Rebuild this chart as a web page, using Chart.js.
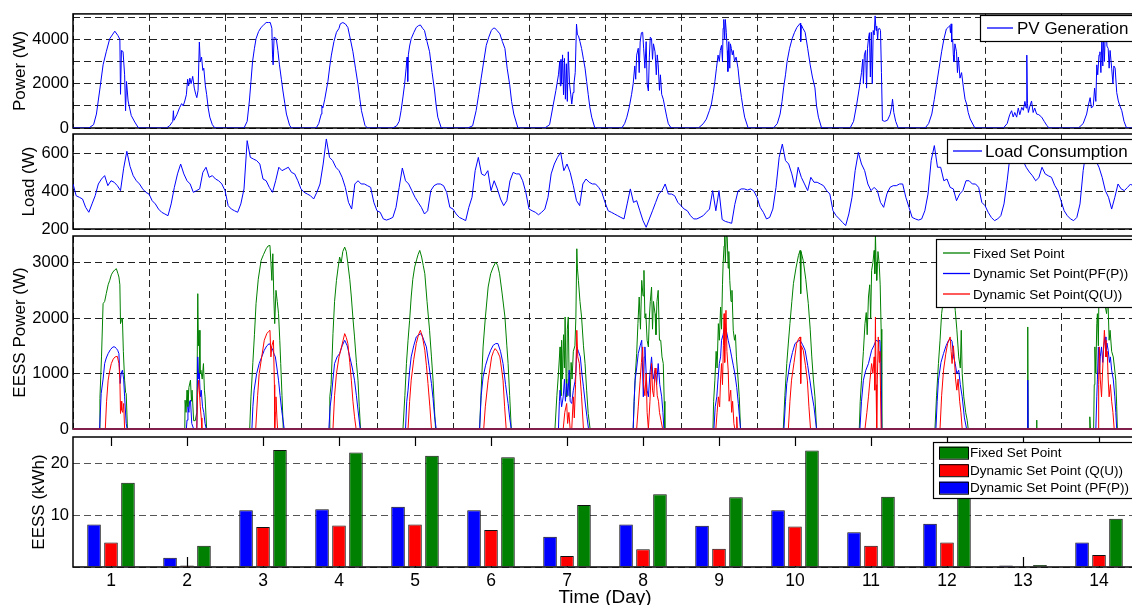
<!DOCTYPE html>
<html>
<head>
<meta charset="utf-8">
<script src="https://cdn.jsdelivr.net/npm/chart.js@4.4.0/dist/chart.umd.min.js"></script>
<style>
  html, body { margin: 0; padding: 0; background: #fff; overflow: hidden; }
  #wrap { position: relative; width: 1140px; height: 605px; }
  #wrap canvas { position: absolute; left: 0; top: 0; }
</style>
</head>
<body>
<div id="wrap">
  <canvas id="pvChart" width="1140" height="605"></canvas>
  <canvas id="loadChart" width="1140" height="605"></canvas>
  <canvas id="essPowerChart" width="1140" height="605"></canvas>
  <canvas id="essEnergyChart" width="1140" height="605"></canvas>
</div>
<script>
// ---- data (hour of day, watts) per day ----
const pvGeneration = [
  [[0,0],[5,0],[6.5,150],[7.4,630],[8.4,1670],[9.5,2850],[10.5,3440],[11.6,4030],[12.4,4200],[13.2,4370],[14.2,4170],[14.8,4000],[15,1520],[15.3,3500],[15.8,3450],[16.3,2400],[16.6,780],[16.9,2100],[17.4,1220],[18.4,560],[19.5,270],[20.5,40],[21,0]],
  [[5.5,0],[6.5,100],[7.5,300],[7.7,780],[7.9,350],[8.8,600],[9.7,930],[10.3,1100],[10.8,1000],[11.3,1220],[11.8,1500],[12.2,2200],[12.5,1900],[12.9,2250],[13.3,2000],[13.8,2330],[14.3,1800],[14.8,1500],[15.1,1370],[15.5,1700],[15.9,3880],[16.2,3000],[16.6,3200],[17,2600],[17.3,2700],[17.8,1900],[18.2,1520],[18.7,900],[19.2,490],[20,150],[20.8,0]],
  [[6,0],[7,300],[7.7,1220],[8.2,2100],[8.7,3000],[9.3,3600],[9.8,4030],[10.6,4350],[11.4,4540],[12.2,4650],[13,4760],[13.7,4760],[14.3,4760],[14.8,4500],[15,3300],[15.2,2850],[15.5,4100],[16.2,4030],[16.7,3500],[17.2,2850],[17.8,2200],[18.3,1670],[18.9,1100],[19.4,630],[20.4,120],[21,0]],
  [[4.8,0],[5.6,200],[6.4,630],[6.6,1000],[6.9,900],[7.5,1300],[8.5,2100],[9.1,2800],[9.6,3290],[10.4,3900],[11.2,4320],[12,4500],[12.4,4700],[13.2,4760],[14,4700],[14.8,4540],[15.6,4000],[16.4,3440],[17.2,2700],[18,1960],[18.6,1300],[19.1,780],[20.2,120],[21,0]],
  [[5,0],[6.2,100],[7,300],[7.6,780],[8.2,1400],[8.7,1960],[9.2,2700],[9.5,3200],[9.7,2100],[9.9,3300],[10.3,3700],[10.8,4030],[11.6,4300],[12.4,4540],[13.1,4620],[13.7,4650],[14.4,4500],[15,4400],[15.8,3900],[16.6,3440],[17.4,2500],[18.2,1670],[18.7,1000],[19.2,490],[20.3,0]],
  [[4.7,0],[6.2,100],[7.3,780],[8.1,1500],[8.9,2250],[9.7,3000],[10.5,3730],[11.3,4100],[12.1,4400],[12.7,4500],[13.2,4510],[13.9,4400],[14.8,4250],[15.6,3900],[16.4,3590],[17.1,2700],[17.9,1960],[18.5,1200],[19.2,630],[20.5,0]],
  [[5,0],[6.5,150],[7.7,1080],[8.5,1700],[9.3,2400],[9.7,3000],[9.9,1900],[10.1,3100],[10.3,2000],[10.6,3300],[10.9,1500],[11.2,3140],[11.5,1300],[11.8,2900],[12.1,1200],[12.4,3440],[12.8,2000],[13.2,1500],[13.5,1080],[13.9,1600],[14.2,2000],[14.6,2500],[15,4690],[15.3,4200],[15.6,4170],[16.1,3900],[16.6,3590],[17.2,3100],[17.7,2700],[18.2,2100],[18.7,1520],[19.2,950],[19.8,490],[20.8,0]],
  [[5.3,0],[6.2,200],[6.9,490],[7.6,900],[8.4,1520],[8.9,2000],[9.4,2800],[9.7,2200],[10,3290],[10.5,3600],[10.8,2500],[11.1,3880],[11.5,4300],[11.9,4320],[12.2,3600],[12.6,2700],[13,3900],[13.3,2000],[13.7,1670],[14,3200],[14.3,4100],[14.7,4030],[15,3100],[15.3,3800],[15.8,3440],[16.2,2400],[16.5,3300],[16.8,2850],[17.2,1700],[17.5,2400],[17.9,1520],[18.4,1300],[18.9,930],[19.5,500],[20,190],[20.9,0]],
  [[5.5,0],[7,190],[8,400],[9,800],[9.6,1080],[10.2,1600],[10.7,2100],[11.2,2700],[11.7,3290],[12.1,3000],[12.4,3500],[12.8,3730],[13.1,3000],[13.3,4500],[13.5,4900],[13.8,4000],[14,4900],[14.3,4320],[14.6,3500],[14.8,2550],[15.1,3900],[15.4,2700],[15.6,3800],[15.9,3590],[16.2,3300],[16.5,3500],[16.9,3000],[17.4,3200],[18,2700],[18.5,2000],[19.1,1370],[19.6,900],[20.1,490],[21.2,0]],
  [[5.2,0],[6.4,200],[7.3,630],[7.9,1200],[8.4,1810],[9,2400],[9.5,3000],[10.3,3600],[11.1,4030],[11.8,4300],[12.6,4540],[13.2,4650],[13.7,4730],[13.8,3900],[14,4650],[14.5,4500],[15.2,4320],[16,3600],[16.8,2850],[17.5,2300],[18.3,1810],[18.8,1000],[19.4,490],[20.4,0]],
  [[5.4,0],[6.5,300],[7.5,1080],[8.3,1800],[9,2500],[9.4,3100],[9.6,2000],[9.9,3300],[10.3,3500],[10.6,1800],[10.9,3600],[11.2,4030],[11.5,4300],[11.8,2300],[12.1,4320],[12.4,2000],[12.7,4400],[13,4200],[13.3,5060],[13.6,4400],[13.8,4600],[14.1,4000],[14.3,4470],[14.7,4500],[15,4400],[15.3,2500],[15.6,340],[16.3,300],[17.2,350],[18,600],[18.5,930],[18.8,1300],[19.2,700],[19.8,300],[20.6,0]],
  [[5.1,0],[6.2,200],[7.2,630],[8,1300],[8.7,1960],[9.5,2700],[10.3,3440],[11,4000],[11.8,4470],[12.4,4550],[12.9,4620],[13.1,4300],[13.3,4700],[13.5,3880],[13.8,4000],[14,3300],[14.2,3000],[14.5,3800],[15,3440],[15.3,2500],[15.6,3200],[16.1,2250],[16.6,2500],[17.2,1810],[17.7,1300],[18.2,1080],[18.7,700],[19.3,410],[20.8,0]],
  [[5.8,0],[7,200],[7.8,600],[8.4,780],[8.9,500],[9.4,700],[10,490],[10.5,900],[11,600],[11.6,930],[12.1,800],[12.6,1200],[13,900],[13.2,3290],[13.4,1100],[13.7,700],[14.2,1000],[14.7,1220],[15.2,700],[15.7,900],[16.3,630],[17,600],[17.9,490],[18.7,300],[19.5,120],[20.2,0]],
  [[5.5,0],[7,200],[8.1,630],[8.6,1000],[9.2,1370],[9.6,900],[10.2,1000],[10.6,1800],[11,1200],[11.3,2850],[11.6,2400],[12,3300],[12.3,3440],[12.6,2500],[12.9,4000],[13.2,2800],[13.4,4170],[13.7,3000],[14,4400],[14.2,5060],[14.5,3700],[14.9,3590],[15.2,2700],[15.5,3500],[16,2700],[16.4,2000],[16.7,2800],[17.1,2700],[17.6,1600],[18.1,1220],[18.6,1000],[19.2,780],[19.9,300],[20.7,0],[24,0]]
];

// hourly load (W), one list per day
const loadConsumption = [
  [437,375,367,358,314,288,332,375,437,463,481,428,454,446,428,402,520,609,530,481,454,437,411,393],
  [384,349,332,305,288,279,270,332,419,490,542,490,454,437,393,402,411,498,525,472,481,463,454,437],
  [402,323,305,296,288,332,411,665,577,568,560,542,463,454,419,393,454,525,507,516,525,498,490,454],
  [411,393,384,375,358,393,437,542,674,577,560,525,507,472,419,340,305,437,454,437,437,428,419,340],
  [296,288,253,247,253,261,314,419,521,454,437,402,367,340,314,279,296,402,428,437,437,428,393,314],
  [305,279,261,253,244,314,367,507,577,490,481,507,402,454,411,358,323,349,454,498,490,490,454,393],
  [305,296,288,275,288,305,367,490,542,577,603,507,542,498,428,349,323,437,463,446,437,437,419,393],
  [340,296,288,279,270,261,253,332,411,340,349,296,244,209,253,296,340,384,402,437,384,384,375,340],
  [323,305,296,270,253,253,261,270,288,305,402,296,402,250,240,235,230,330,400,411,411,405,411,400],
  [367,314,288,253,261,305,419,577,647,560,542,490,419,525,472,437,402,472,446,446,437,428,402,384],
  [296,270,253,235,218,279,367,507,603,542,507,437,402,419,402,340,314,384,419,428,428,437,437,367],
  [314,261,253,247,253,296,384,560,639,525,525,454,463,419,411,349,384,402,454,454,437,437,419,340],
  [323,288,261,244,253,270,332,454,600,630,600,580,560,525,500,480,454,470,525,490,480,472,430,402],
  [349,296,270,253,244,261,332,507,620,600,580,560,525,472,402,367,305,367,437,411,402,419,437,420,430]
];

// EESS power (hour of day, watts) per day
const essFixed = [
  [[0,0],[8.3,0],[8.5,550],[9,1300],[9.5,2260],[10,2300],[10.5,2440],[11.1,2600],[11.6,2680],[12.1,2780],[12.6,2830],[13.2,2870],[13.7,2890],[14.2,2800],[14.5,2740],[14.8,2600],[15,1900],[15.3,1960],[15.6,2000],[15.9,1400],[16.3,880],[16.6,660],[16.8,640],[17.2,0]],
  [[11.3,0],[11.4,520],[11.7,300],[12,700],[12.3,400],[12.6,750],[13.1,880],[13.4,500],[13.6,700],[14.1,150],[14.6,150],[15.1,300],[15.4,2440],[15.6,1500],[15.8,1780],[16.1,1000],[16.4,1060],[16.8,900],[17.2,1180],[17.5,700],[17.7,580],[18.2,0]],
  [[7.8,0],[8.2,580],[8.8,1200],[9.3,1700],[9.8,2260],[10.5,2700],[11.4,3040],[12.2,3150],[13,3250],[13.6,3300],[14.2,3310],[14.5,3000],[14.8,2680],[15.1,3160],[15.4,2400],[15.7,1900],[16.1,2500],[16.5,2300],[16.9,2080],[17.3,1600],[17.6,1180],[18,600],[18.4,0]],
  [[9,0],[9.1,580],[9.5,800],[10.1,1720],[10.6,2300],[11.2,2680],[11.7,2900],[12.2,3100],[12.7,3000],[13.2,3200],[13.8,3280],[14.3,3200],[14.8,2980],[15.4,2700],[15.9,2380],[16.4,2000],[16.9,1660],[17.5,1200],[18,880],[18.4,400],[18.8,0]],
  [[8.2,0],[8.8,600],[9.3,1180],[9.8,1600],[10.3,1960],[10.8,2380],[11.3,2700],[11.9,2920],[12.5,3050],[13,3150],[13.5,3220],[14.1,3100],[14.6,2950],[15.1,2800],[15.8,2300],[16.6,1780],[17.2,1300],[17.7,880],[18.1,400],[18.5,0]],
  [[8.4,0],[8.9,700],[9.5,1480],[10.2,2000],[11.1,2560],[11.9,2800],[12.7,2920],[13.5,3010],[14.1,2950],[14.7,2800],[15.5,2450],[16.4,2020],[17,1500],[17.4,1180],[17.9,600],[18.4,0]],
  [[8.2,0],[8.8,600],[9.3,1000],[9.8,1480],[10.1,600],[10.3,1600],[10.6,900],[10.9,1700],[11.2,1100],[11.4,2020],[11.7,900],[11.9,580],[12.1,1800],[12.4,2020],[12.7,800],[13,580],[13.3,1200],[13.6,900],[14,1400],[14.5,1500],[14.8,2000],[15.1,3250],[15.3,2900],[15.6,2680],[16.1,2300],[16.6,2020],[17.2,1500],[17.7,1180],[18.2,700],[18.7,280],[19.3,0]],
  [[8.9,0],[9.2,500],[9.6,1000],[10,1360],[10.4,1900],[10.8,2380],[11.2,1800],[11.6,2680],[12,2400],[12.3,2860],[12.6,2000],[12.9,2080],[13.3,1600],[13.7,1480],[14,2000],[14.3,2300],[14.7,2560],[15,1800],[15.3,2300],[15.8,2080],[16.1,1700],[16.4,2300],[16.8,2500],[17.2,1600],[17.6,1600],[18,1300],[18.4,1180],[18.7,500],[18.9,0]],
  [[10.1,0],[10.3,500],[10.7,880],[11.1,1400],[11.4,1100],[11.8,1900],[12.1,1600],[12.5,2200],[12.8,1800],[13.1,2600],[13.3,2980],[13.6,3300],[13.8,3500],[14,3000],[14.3,3500],[14.6,3460],[14.9,2900],[15.1,3200],[15.4,2680],[15.8,2300],[16.1,2500],[16.5,1780],[16.9,1600],[17.2,1700],[17.5,1300],[17.9,1000],[18.4,580],[18.8,0]],
  [[8.3,0],[8.8,600],[9.4,1180],[9.9,1550],[10.4,1900],[11,2300],[11.5,2620],[12.3,2900],[13.1,3130],[13.6,3220],[13.8,2440],[13.9,3200],[14.6,3040],[15.4,2700],[16.2,2260],[16.8,1800],[17.3,1300],[17.8,900],[18.3,580],[18.8,0]],
  [[8.3,0],[8.6,500],[9,880],[9.6,1400],[10.1,1900],[10.5,2100],[10.8,1700],[11.2,2380],[11.6,2600],[11.9,2000],[12.2,2860],[12.6,3000],[13,3220],[13.2,2800],[13.4,3520],[13.6,3000],[13.8,2680],[14.2,3200],[14.6,2980],[14.9,2600],[15.2,1800],[15.4,0]],
  [[8.2,0],[8.7,600],[9.3,1180],[9.8,1600],[10.3,2080],[10.8,2300],[11.4,2500],[11.9,2800],[12.4,2600],[12.9,3000],[13.3,2700],[13.8,2900],[14.2,2400],[14.6,2140],[15.1,1800],[15.7,1300],[16.2,1100],[16.5,1780],[16.8,1000],[17.3,580],[17.9,300],[18.4,150],[18.7,0]],
  [[13.4,0],[13.5,1840],[13.6,0],[16.2,0],[16.3,160],[16.4,0]],
  [[8.9,0],[9.1,220],[9.3,0],[10.3,0],[10.5,800],[10.7,1480],[11,1000],[11.3,1900],[11.5,2080],[11.8,1500],[12,2600],[12.3,2200],[12.6,3000],[12.9,2400],[13.2,3300],[13.4,2600],[13.7,3400],[14,2200],[14.4,2080],[14.8,2400],[15.2,1600],[15.5,1780],[16,1400],[16.5,1300],[16.9,1100],[17.3,880],[17.6,400],[17.8,0],[24,0]]
];
const essDynPF = [
  [[0,0],[8.4,0],[8.9,640],[9.5,900],[10,1180],[10.5,1280],[11.1,1360],[11.8,1430],[12.6,1480],[13.2,1480],[13.7,1450],[14.1,1420],[14.5,1360],[14.9,820],[15.2,1000],[15.6,1060],[16,900],[16.3,580],[16.8,100],[17.1,0]],
  [[11.8,0],[12,160],[12.3,400],[12.6,300],[12.8,500],[13.1,520],[13.5,100],[14.1,0],[15.1,0],[15.4,1300],[15.7,900],[15.9,1000],[16.2,580],[16.5,700],[16.9,400],[17.3,300],[17.7,100],[18.1,0]],
  [[8.5,0],[8.8,400],[9.2,700],[10,1000],[10.8,1180],[11.6,1300],[12.4,1420],[13.2,1500],[14,1540],[14.6,1480],[15.1,1420],[15.5,1350],[15.9,1300],[16.4,1100],[16.9,880],[17.4,600],[17.9,340],[18.7,0]],
  [[8.8,0],[9.2,400],[9.6,580],[10.1,900],[10.6,1180],[11.4,1300],[12.2,1360],[13,1500],[13.8,1600],[14.6,1500],[15.4,1300],[16.2,1100],[16.9,880],[17.5,600],[18,340],[18.7,0]],
  [[9,0],[9.4,500],[9.8,700],[10.3,1050],[10.8,1300],[11.6,1500],[12.4,1660],[13.2,1700],[14,1720],[14.8,1600],[15.6,1480],[16.4,1150],[17.2,820],[17.7,550],[18.2,220],[18.7,0]],
  [[8.4,0],[8.9,600],[9.5,940],[10.3,1150],[11.1,1300],[11.9,1420],[12.7,1510],[13.5,1540],[14.2,1540],[15,1400],[15.8,1180],[16.6,800],[17.4,460],[17.9,200],[18.4,0]],
  [[9.3,0],[9.6,500],[9.8,700],[10.3,400],[10.8,580],[11.2,900],[11.5,500],[11.9,820],[12.3,600],[12.7,1060],[13,500],[13.5,460],[14,700],[14.5,850],[14.8,1000],[15.1,1480],[15.6,1400],[16.2,1300],[16.7,1000],[17.2,760],[17.8,450],[18.3,220],[18.8,0]],
  [[8.9,0],[9.2,500],[9.5,880],[10,1100],[10.5,1360],[11.1,1500],[11.6,1600],[12.1,580],[12.4,1300],[12.6,1480],[13,1000],[13.3,700],[13.7,580],[14.2,1000],[14.7,1300],[15.2,900],[15.8,1060],[16.3,800],[16.8,1180],[17.3,800],[17.9,580],[18.3,300],[18.6,0]],
  [[10.4,0],[10.8,400],[11.3,580],[11.7,900],[12.1,1180],[12.5,1300],[12.8,1600],[13.3,1700],[13.9,1900],[14.4,1750],[14.9,1600],[15.5,1450],[16,1300],[16.5,1150],[17,1000],[17.6,750],[18.1,460],[18.8,0]],
  [[8.5,0],[9,500],[9.4,820],[9.9,1000],[10.4,1180],[11.2,1380],[12,1540],[12.8,1580],[13.6,1600],[14.4,1520],[15.2,1420],[16,1150],[16.7,880],[17.4,600],[18,400],[18.8,0]],
  [[8.5,0],[9,500],[9.6,880],[10.3,1050],[11.2,1180],[11.7,1300],[12.2,1420],[12.9,1500],[13.6,1600],[14.2,1580],[14.8,1600],[15.1,1200],[15.4,0]],
  [[8.5,0],[8.9,500],[9.3,880],[10.1,1200],[10.9,1360],[11.7,1500],[12.5,1600],[13.1,1620],[13.6,1580],[14.1,1300],[14.6,1180],[15.1,1000],[15.7,1060],[16.2,800],[16.8,580],[17.5,200],[18.2,0]],
  [[13.4,0],[13.5,880],[13.6,0]],
  [[11,0],[11.3,580],[11.5,900],[11.8,1480],[12.1,1000],[12.4,1300],[12.8,1480],[13.2,1200],[13.5,1500],[13.9,1660],[14.2,1300],[14.5,1550],[14.9,1420],[15.3,1200],[15.6,1300],[16,1060],[16.5,900],[17,580],[17.3,300],[17.6,0],[24,0]]
];
const essDynQU = [
  [[0,0],[10.2,0],[10.6,500],[11.1,880],[11.6,1050],[12.1,1180],[12.7,1260],[13.3,1300],[14,1310],[14.5,1180],[14.8,900],[15,280],[15.2,500],[15.4,340],[15.7,300],[16,460],[16.3,0]],
  [[15.1,0],[15.3,600],[15.7,880],[15.9,700],[16.2,400],[16.5,200],[16.7,0]],
  [[9.7,0],[10.3,600],[10.8,1000],[11.6,1300],[12.4,1600],[13.2,1720],[13.8,1760],[14.2,1780],[14.5,1300],[14.8,1500],[15.3,1600],[15.6,800],[15.7,0],[15.9,300],[16.1,580],[16.4,200],[16.6,0]],
  [[10.1,0],[10.6,600],[11.2,1000],[12,1300],[12.8,1480],[13.3,1600],[13.8,1720],[14.3,1650],[14.8,1540],[15.4,1200],[15.9,880],[16.4,500],[16.9,220],[17.4,0]],
  [[9.8,0],[10.3,500],[10.8,880],[11.6,1250],[12.4,1540],[13.1,1700],[13.7,1780],[14.4,1650],[15.1,1420],[15.6,1150],[16.1,820],[16.7,400],[17.2,0]],
  [[9.7,0],[10.2,400],[11.1,880],[11.7,1100],[12.2,1300],[12.8,1400],[13.3,1450],[14,1400],[14.8,1300],[15.3,1100],[15.8,880],[16.3,400],[16.8,0]],
  [[10.8,0],[11.3,300],[11.9,460],[12.2,100],[12.6,300],[13,0],[13.5,0],[14,580],[14.3,200],[14.7,800],[15.1,1780],[15.4,1300],[15.9,1180],[16.2,900],[16.6,580],[17.2,0]],
  [[10,0],[10.5,400],[11.1,880],[11.5,1200],[11.9,1480],[12.2,800],[12.6,600],[13,1000],[13.3,300],[13.7,0],[14.2,500],[14.7,1180],[15,700],[15.4,580],[15.8,1100],[16.1,1000],[16.5,600],[16.9,500],[17.2,300],[17.7,150],[18.2,0]],
  [[11,0],[11.4,300],[11.8,580],[12.2,400],[12.5,900],[12.8,1180],[13.1,800],[13.4,1500],[13.6,2080],[13.8,1200],[14.2,2140],[14.5,1400],[14.9,1060],[15.2,500],[15.7,700],[16,300],[16.3,500],[16.7,100],[17,0],[17.4,0],[17.6,220],[17.8,0]],
  [[9.9,0],[10.4,500],[10.9,880],[11.7,1200],[12.5,1540],[13.1,1620],[13.6,1660],[13.8,820],[14,1500],[14.6,1420],[15.3,1150],[15.9,880],[16.4,400],[16.9,0]],
  [[10.1,0],[10.7,300],[11.2,580],[11.7,900],[12.2,1180],[12.6,1000],[13,1300],[13.2,700],[13.4,2020],[13.6,800],[13.8,0],[14,900],[14.3,1660],[14.6,1200],[14.8,1400],[15,700],[15.2,0]],
  [[9.8,0],[10.3,600],[10.9,1060],[11.6,1350],[12.2,1540],[13,1660],[13.3,1400],[13.6,1180],[14,1500],[14.3,1300],[14.7,900],[15.1,700],[15.5,900],[16,500],[16.4,300],[16.8,0]],
  [],
  [[11.7,0],[11.9,800],[12.1,1480],[12.4,900],[12.8,580],[13.1,1000],[13.4,1400],[13.7,1780],[13.9,1600],[14.2,1300],[14.6,1400],[14.9,900],[15.2,580],[15.6,800],[16,500],[16.4,300],[16.8,0],[24,0]]
];

// daily EESS energy (kWh)
const dayLabels = ['1','2','3','4','5','6','7','8','9','10','11','12','13','14'];
const energyPF = [8.15, 1.8, 10.9, 11.1, 11.6, 10.9, 5.8, 8.15, 7.95, 10.9, 6.7, 8.3, 0.3, 4.7];
const energyQU = [4.7, 0.3, 7.7, 8.0, 8.15, 7.1, 2.1, 3.4, 3.5, 7.8, 4.1, 4.7, 0.05, 2.3];
const energyFixed = [16.2, 4.1, 22.5, 22.0, 21.4, 21.1, 11.9, 14.0, 13.4, 22.4, 13.5, 15.0, 0.4, 9.3];

// tick values for each panel
const dayTicks = [0,1,2,3,4,5,6,7,8,9,10,11,12,13,14];
const pvTicks = [0, 1000, 2000, 3000, 4000, 5000];
const pvTickLabels = [0, 2000, 4000];
const loadTicks = [200, 400, 600];
const essPowerTicks = [0, 1000, 2000, 3000];
const essEnergyTicks = [0, 10, 20];
const essEnergyTickLabels = [10, 20];

// ---- helpers ----
function dayPoints(days) {
  const pts = [];
  days.forEach((samples, d) => samples.forEach(([h, v]) => pts.push({x: d + h / 24, y: v})));
  return pts;
}
function hourlyPoints(days) {
  const pts = [];
  days.forEach((vals, d) => vals.forEach((v, h) => pts.push({x: d + h / 24, y: v})));
  return pts;
}

const dash = [7, 4];
Chart.defaults.font.family = '"Liberation Sans", Arial, Helvetica, sans-serif';
Chart.defaults.color = '#000';

// frame round each panel (+ inward ticks for the bar panel)
const panelFrame = {
  id: 'panelFrame',
  beforeDatasetsDraw(chart, args, o) {
    const {ctx, chartArea: a} = chart;
    if (o.innerTicks) {
      const x = chart.scales.x;
      ctx.save();
      ctx.strokeStyle = '#000';
      ctx.lineWidth = 1.2;
      x.ticks.forEach((t, i) => {
        const px = Math.round(x.getPixelForTick(i)) + 0.5;
        ctx.beginPath();
        ctx.moveTo(px, a.top); ctx.lineTo(px, a.top + 9);
        ctx.moveTo(px, a.bottom); ctx.lineTo(px, a.bottom - 10);
        ctx.stroke();
      });
      ctx.restore();
    }
    if (o.under) drawFrame(chart, o);
  },
  afterDatasetsDraw(chart, args, o) {
    if (!o.under) drawFrame(chart, o);
  }
};
function drawFrame(chart, o) {
  const {ctx, chartArea: a} = chart;
  ctx.save();
  ctx.strokeStyle = '#000';
  ctx.lineWidth = 1.5;
  ctx.strokeRect(a.left, a.top, a.right - a.left, a.bottom - a.top);
  if (o.bottomColor) {
    ctx.strokeStyle = o.bottomColor;
    ctx.lineWidth = 2;
    ctx.beginPath();
    ctx.moveTo(a.left, a.bottom); ctx.lineTo(a.right, a.bottom);
    ctx.stroke();
  }
  ctx.restore();
}

// MATLAB style boxed legend inside the plot
const boxLegend = {
  id: 'boxLegend',
  afterDraw(chart, args, o) {
    if (!o.items) return;
    const ctx = chart.ctx;
    ctx.save();
    ctx.fillStyle = '#fff';
    ctx.fillRect(o.x, o.y, o.w, o.h);
    ctx.strokeStyle = '#000';
    ctx.lineWidth = 1.2;
    ctx.strokeRect(o.x + 0.5, o.y + 0.5, o.w, o.h);
    ctx.font = o.font;
    ctx.textBaseline = 'middle';
    o.items.forEach((idx, i) => {
      const ds = chart.data.datasets[idx];
      const cy = o.y + o.first + i * o.rowH;
      if (o.swatch === 'rect') {
        ctx.fillStyle = ds.backgroundColor;
        ctx.fillRect(o.x + o.sx, cy - 6, o.sw, 12);
        ctx.strokeStyle = '#000';
        ctx.lineWidth = 1;
        ctx.strokeRect(o.x + o.sx + 0.5, cy - 6 + 0.5, o.sw, 12);
      } else {
        ctx.strokeStyle = ds.borderColor;
        ctx.lineWidth = 1.3;
        ctx.beginPath();
        ctx.moveTo(o.x + o.sx, cy); ctx.lineTo(o.x + o.sx + o.sw, cy);
        ctx.stroke();
      }
      ctx.fillStyle = '#000';
      ctx.fillText(ds.label, o.x + o.tx, cy + 1);
    });
    ctx.restore();
  }
};
Chart.register(panelFrame, boxLegend);

function timeAxis() {
  return {
    type: 'linear', min: 0, max: 14,
    ticks: {display: false, autoSkip: false},
    afterBuildTicks: s => { s.ticks = dayTicks.map(v => ({value: v})); },
    grid: {color: '#222', drawTicks: false},
    border: {display: false, dash: dash},
    afterFit: s => { s.height = 0; }
  };
}
function valueAxis(o) {
  return {
    min: o.min, max: o.max,
    afterBuildTicks: s => { s.ticks = o.ticks.map(v => ({value: v})); },
    ticks: {autoSkip: false, padding: 4, font: {size: 16.5}, color: '#000',
            callback: v => o.labels.includes(v) ? String(v) : ''},
    grid: {color: o.gridColor || '#222', drawTicks: false},
    border: {display: false, dash: dash},
    title: {display: true, text: o.title, color: '#000', font: {size: 17}, padding: {top: o.titlePad, bottom: 0}},
    afterFit: s => { s.width = 73; }
  };
}
function lineSet(label, data, color) {
  return {label: label, data: data, borderColor: color, backgroundColor: color,
          borderWidth: 1, pointRadius: 0, tension: 0, fill: false};
}
function baseOptions(top, bottom) {
  return {
    responsive: false, animation: false, devicePixelRatio: 1,
    layout: {padding: {left: 0, right: 3, top: top, bottom: bottom}},
    events: []
  };
}
// nudge layout padding until the plot area sits where the panel should be
function pinArea(chart, want) {
  const pad = Object.assign({}, chart.options.layout.padding);
  for (let k = 0; k < 4; k++) {
    const a = chart.chartArea;
    const dt = want.top - a.top, db = a.bottom - want.bottom, dr = a.right - want.right;
    if (Math.abs(dt) + Math.abs(db) + Math.abs(dr) < 0.3) return;
    pad.top += dt; pad.bottom += db; pad.right += dr;
    chart.options.layout.padding = {left: 0, top: pad.top, right: pad.right, bottom: pad.bottom};
    chart.update();
  }
}

// ---- panel 1: PV generation ----
const pvChart = new Chart(document.getElementById('pvChart'), {
  type: 'line',
  data: {datasets: [lineSet('PV Generation', dayPoints(pvGeneration), '#0000ff')]},
  options: Object.assign(baseOptions(11, 605 - 128), {
    scales: {
      x: timeAxis(),
      y: valueAxis({min: 0, max: 5150, ticks: pvTicks, labels: pvTickLabels, title: 'Power (W)', titlePad: 10})
    },
    plugins: {
      legend: {display: false}, tooltip: {enabled: false},
      panelFrame: {under: true},
      boxLegend: {items: [0], x: 980, y: 15, w: 170, h: 26, first: 13, rowH: 0, sx: 7, sw: 26, tx: 37,
                  font: '17px "Liberation Sans", Arial, sans-serif'}
    }
  })
});
pinArea(pvChart, {top: 11, bottom: 128, right: 1137});

// ---- panel 2: load ----
const loadChart = new Chart(document.getElementById('loadChart'), {
  type: 'line',
  data: {datasets: [lineSet('Load Consumption', hourlyPoints(loadConsumption), '#0000ff')]},
  options: Object.assign(baseOptions(134, 605 - 229), {
    scales: {
      x: timeAxis(),
      y: valueAxis({min: 200, max: 700, ticks: loadTicks, labels: loadTicks, title: 'Load (W)', titlePad: 19})
    },
    plugins: {
      legend: {display: false}, tooltip: {enabled: false},
      panelFrame: {under: true},
      boxLegend: {items: [0], x: 947, y: 139, w: 200, h: 24, first: 12, rowH: 0, sx: 6, sw: 29, tx: 38,
                  font: '17px "Liberation Sans", Arial, sans-serif'}
    }
  })
});
pinArea(loadChart, {top: 134, bottom: 229, right: 1137});

// ---- panel 3: EESS power ----
const essPowerChart = new Chart(document.getElementById('essPowerChart'), {
  type: 'line',
  data: {datasets: [
    lineSet('Dynamic Set Point(Q(U))', dayPoints(essDynQU), '#ff0000'),
    lineSet('Dynamic Set Point(PF(P))', dayPoints(essDynPF), '#0000ff'),
    lineSet('Fixed Set Point', dayPoints(essFixed), '#008000')
  ]},
  options: Object.assign(baseOptions(236, 605 - 429), {
    scales: {
      x: timeAxis(),
      y: valueAxis({min: 0, max: 3480, ticks: essPowerTicks, labels: essPowerTicks, title: 'EESS Power (W)', titlePad: 10})
    },
    plugins: {
      legend: {display: false}, tooltip: {enabled: false},
      panelFrame: {under: false, bottomColor: '#80204a'},
      boxLegend: {items: [2, 1, 0], x: 936, y: 239, w: 210, h: 68, first: 14, rowH: 20.5, sx: 7, sw: 27, tx: 37,
                  font: '13.5px "Liberation Sans", Arial, sans-serif'}
    }
  })
});
pinArea(essPowerChart, {top: 236, bottom: 429, right: 1137});

// ---- panel 4: daily EESS energy ----
const essEnergyChart = new Chart(document.getElementById('essEnergyChart'), {
  type: 'bar',
  data: {
    labels: dayLabels,
    datasets: [
      {label: 'Dynamic Set Point (PF(P))', data: energyPF, backgroundColor: '#0000ff', borderColor: '#111', borderWidth: 1},
      {label: 'Dynamic Set Point (Q(U))', data: energyQU, backgroundColor: '#ff0000', borderColor: '#111', borderWidth: 1},
      {label: 'Fixed Set Point', data: energyFixed, backgroundColor: '#008000', borderColor: '#111', borderWidth: 1}
    ]
  },
  options: Object.assign(baseOptions(437, 0), {
    datasets: {bar: {categoryPercentage: 0.67, barPercentage: 0.8}},
    scales: {
      x: {
        ticks: {font: {size: 17.5}, color: '#000', padding: -4, autoSkip: false, maxRotation: 0},
        grid: {display: false},
        border: {display: false},
        title: {display: true, text: 'Time (Day)', color: '#000', font: {size: 19}, padding: {top: 0, bottom: -4}},
        afterFit: s => { s.height = 38; }
      },
      y: valueAxis({min: 0, max: 25, ticks: essEnergyTicks, labels: essEnergyTickLabels, title: 'EESS (kWh)', titlePad: 29, gridColor: '#555'})
    },
    plugins: {
      legend: {display: false}, tooltip: {enabled: false},
      panelFrame: {under: false, innerTicks: true},
      boxLegend: {items: [2, 1, 0], x: 933, y: 442, w: 210, h: 56, first: 10.7, rowH: 17.5, sx: 6, sw: 29, tx: 37,
                  swatch: 'rect', font: '13.5px "Liberation Sans", Arial, sans-serif'}
    }
  })
});
pinArea(essEnergyChart, {top: 437, bottom: 567, right: 1137});
</script>
</body>
</html>
